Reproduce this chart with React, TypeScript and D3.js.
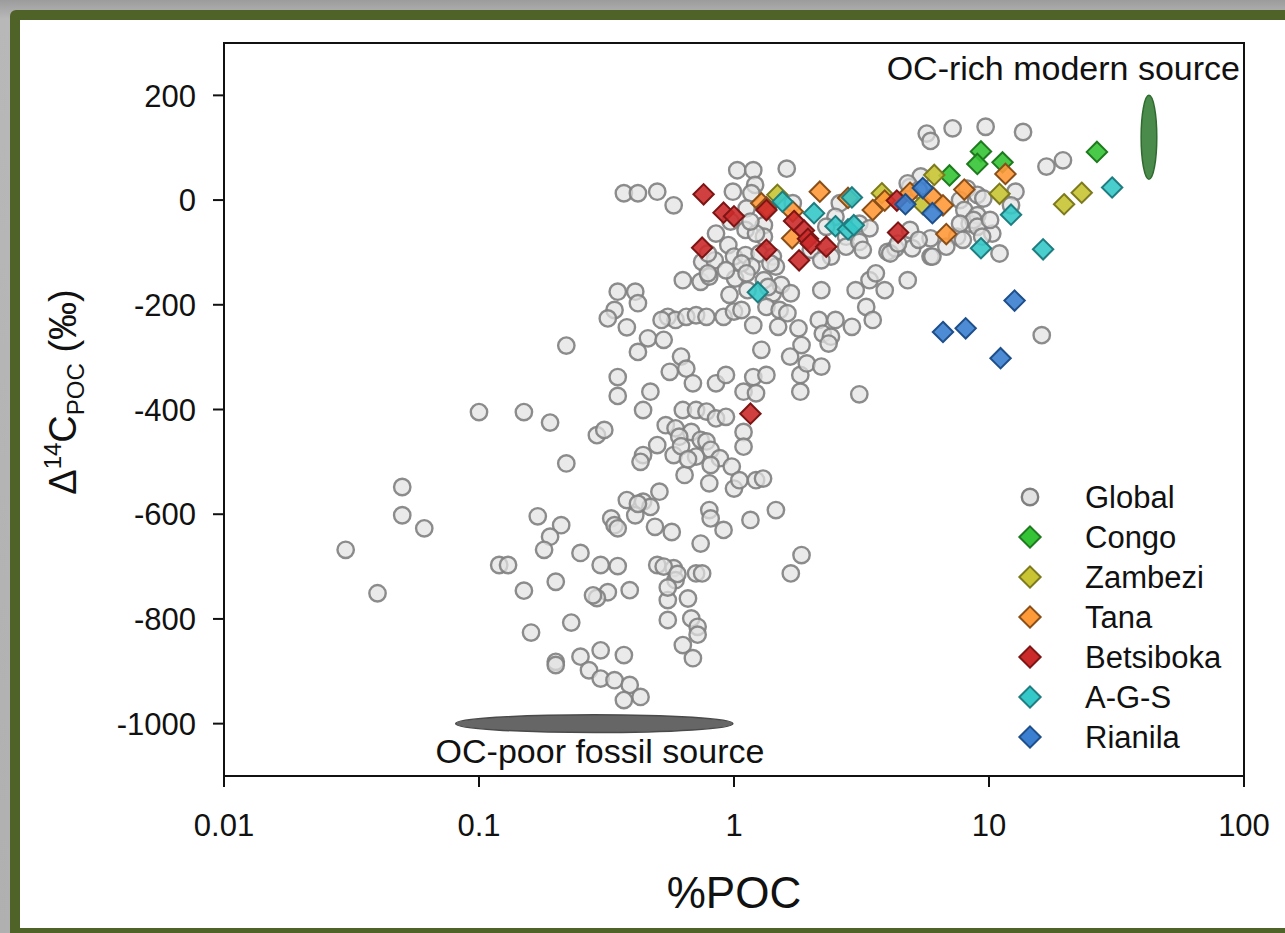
import React from "react";
import * as d3 from "d3";

type Pt = [number, number];

// ---- axis ticks ----
const X_TICKS = [0.01, 0.1, 1, 10, 100];
const X_TICK_LABELS = ["0.01", "0.1", "1", "10", "100"];
const Y_TICKS = [200, 0, -200, -400, -600, -800, -1000];

// ---- data: [%POC, Δ14C ‰] ----
const GLOBAL: Pt[] = [
  // top
  [5.7, 127], [5.9, 113], [7.2, 137], [9.7, 140], [13.6, 130], [16.8, 64], [19.5, 76],
  [1.03, 57], [1.19, 57], [1.61, 60], [5.4, 45],
  // around 0
  [0.37, 13], [0.42, 13], [0.5, 16], [0.58, -10], [0.99, 16], [1.21, 29], [1.17, 13],
  [1.12, -16], [1.7, -6], [2.6, -6], [4.9, 25], [4.8, 32], [5.3, 19], [8.2, 22], [9.0, 10],
  [9.5, 3], [12.7, 16], [12.2, -10], [7.7, 0], [8.0, -19],
  // -20 .. -120
  [0.85, -64], [0.95, -86], [1.11, -57], [1.31, -48], [1.31, -70], [0.75, -118], [0.84, -115],
  [1.0, -108], [1.11, -105], [1.26, -102], [1.42, -108], [1.46, -127], [1.17, -127], [0.79, -102],
  [1.22, -64], [1.16, -41], [0.97, -41], [2.5, -32], [3.1, -45], [2.75, -70], [3.4, -54],
  [2.75, -89], [3.1, -80], [4.0, -99], [4.3, -92], [5.0, -92], [5.9, -108], [5.9, -73],
  [4.9, -57], [8.4, -45], [7.5, -70], [9.0, -29], [8.7, -38], [9.0, -51], [10.3, -64],
  [11.0, -102], [7.7, -45], [10.1, -38], [2.4, -108], [3.2, -95], [2.3, -51], [2.0, -95],
  [2.2, -115], [5.3, -76], [6.0, -108], [6.8, -89], [4.1, -102], [4.4, -83], [7.9, -76], [9.4, -70],
  // -120 .. -210
  [0.63, -153], [0.74, -156], [0.8, -146], [1.01, -150], [0.96, -181], [1.13, -172], [1.42, -178],
  [1.53, -162], [1.34, -204], [0.35, -175], [0.41, -175], [0.42, -197], [0.34, -210], [0.79, -140],
  [0.93, -134], [1.07, -121], [1.39, -121], [1.31, -153], [1.12, -140], [1.36, -166], [1.67, -178],
  [1.51, -210], [2.2, -172], [3.0, -172], [3.4, -153], [3.6, -140], [3.9, -172], [4.8, -153], [3.3, -204],
  // -210 .. -300
  [0.32, -226], [0.38, -243], [0.22, -278], [0.46, -264], [0.53, -267], [0.42, -290], [0.55, -223],
  [0.59, -229], [0.65, -223], [0.71, -220], [0.78, -223], [0.91, -223], [1.0, -213], [1.07, -210],
  [1.19, -239], [1.49, -242], [1.62, -216], [1.79, -245], [1.84, -277], [2.15, -229], [2.23, -255],
  [2.4, -261], [2.5, -229], [2.9, -242], [3.5, -229], [1.28, -286], [1.66, -299], [2.35, -274],
  [0.62, -299], [0.52, -229], [16.1, -258],
  // -300 .. -420
  [1.82, -334], [1.93, -312], [2.2, -318], [0.65, -322], [0.69, -350], [0.56, -328], [0.35, -338],
  [0.35, -374], [0.47, -366], [0.44, -401], [0.63, -401], [0.71, -401], [0.78, -404], [0.85, -350],
  [0.93, -334], [1.09, -366], [1.19, -338], [1.22, -369], [1.34, -334], [3.1, -371], [1.82, -366],
  [0.1, -405], [0.15, -405], [0.19, -425], [0.85, -417], [0.93, -414],
  // -420 .. -560
  [1.09, -443], [1.09, -471], [0.29, -449], [0.31, -439], [0.22, -503], [0.54, -430], [0.59, -436],
  [0.68, -443], [0.74, -458], [0.78, -461], [0.61, -452], [0.5, -468], [0.44, -487], [0.43, -500],
  [0.58, -487], [0.71, -490], [0.81, -477], [0.88, -493], [0.81, -506], [0.98, -509], [0.64, -525],
  [0.8, -541], [1.0, -551], [1.05, -535], [1.22, -535], [1.3, -532], [0.51, -557], [0.05, -548],
  [0.62, -470], [0.66, -495],
  // -560 .. -710
  [0.38, -573], [0.44, -576], [0.47, -586], [0.33, -608], [0.34, -621], [0.41, -602], [0.49, -624],
  [0.57, -634], [0.8, -592], [0.81, -608], [0.91, -630], [1.16, -611], [1.46, -592], [0.74, -656],
  [0.21, -621], [0.25, -674], [0.3, -697], [0.35, -699], [0.5, -697], [0.58, -703], [1.84, -678],
  [1.67, -713], [0.05, -602], [0.061, -627], [0.03, -668], [0.17, -604], [0.19, -643], [0.18, -668],
  [0.12, -697], [0.13, -697], [0.53, -700], [0.42, -580], [0.35, -627],
  // -710 .. -960
  [0.39, -745], [0.32, -749], [0.29, -760], [0.23, -807], [0.59, -726], [0.71, -713], [0.66, -761],
  [0.55, -764], [0.55, -802], [0.68, -799], [0.72, -815], [0.63, -850], [0.69, -875], [0.25, -872],
  [0.3, -860], [0.37, -869], [0.27, -898], [0.3, -914], [0.34, -917], [0.39, -926], [0.43, -949],
  [0.37, -955], [0.04, -751], [0.15, -746], [0.2, -729], [0.16, -826], [0.2, -882], [0.2, -888],
  [0.75, -713], [0.72, -830], [0.6, -714], [0.55, -740], [0.28, -755],
];

const CONGO: Pt[] = [[7.0, 47], [9.3, 93], [9.0, 69], [11.3, 72], [26.5, 92]];
const ZAMBEZI: Pt[] = [[1.48, 10], [3.8, 13], [5.5, -8], [6.1, 48], [11.0, 12], [19.7, -8], [23.1, 14]];
const TANA: Pt[] = [
  [1.28, -6], [1.34, -14], [1.7, -22], [1.69, -73], [2.17, 16], [2.8, 4], [3.5, -19], [3.9, -1],
  [4.9, 14], [6.0, 6], [6.6, -10], [6.8, -65], [8.0, 20], [11.6, 50],
];
const BETSIBOKA: Pt[] = [
  [0.76, 11], [0.91, -24], [1.0, -31], [1.34, -19], [0.75, -91], [1.34, -95], [1.72, -40], [1.88, -58],
  [1.95, -74], [2.0, -83], [1.8, -115], [2.3, -89], [4.35, -1], [4.4, -62], [1.16, -408],
];
const AGS: Pt[] = [
  [1.55, -3], [2.06, -25], [2.5, -50], [2.8, -56], [2.95, -48], [2.9, 5], [1.24, -176], [12.2, -28],
  [9.3, -92], [16.3, -94], [30.4, 24],
];
const RIANILA: Pt[] = [[5.5, 23], [4.7, -8], [6.0, -25], [12.6, -192], [6.6, -252], [8.1, -245], [11.1, -302]];

const SERIES_NAMES = ["Congo", "Zambezi", "Tana", "Betsiboka", "A-G-S", "Rianila"];
const SERIES_DATA = [CONGO, ZAMBEZI, TANA, BETSIBOKA, AGS, RIANILA];
const SERIES_FILL = ["#35c435", "#c8c434", "#ff9a38", "#cc2b2b", "#35c8c8", "#3a7fd0"];
const SERIES_STROKE = ["#1f7a1f", "#7d7a1e", "#8a4f18", "#7d1515", "#1f7d80", "#1e4f8a"];

// end-members
const FOSSIL_X = [0.081, 0.99];
const FOSSIL_Y = [-1017, -983];
const MODERN_X = [39.5, 45.5];
const MODERN_Y = [40, 200];

const FONT = "'Liberation Sans', Arial, Helvetica, sans-serif";

export default function App() {
  const W = 1285;
  const H = 933;
  const L = 224, R = 1244, T = 43, B = 776;
  const x = d3.scaleLog().domain([0.01, 100]).range([L, R]);
  const y = d3.scaleLinear().domain([-1100, 300]).range([B, T]);
  const diamond = d3.symbol().type(d3.symbolDiamond2).size(265)() as string;
  const diamondLeg = d3.symbol().type(d3.symbolDiamond2).size(290)() as string;

  const fx0 = x(FOSSIL_X[0]), fx1 = x(FOSSIL_X[1]);
  const fy0 = y(FOSSIL_Y[1]), fy1 = y(FOSSIL_Y[0]);
  const mx0 = x(MODERN_X[0]), mx1 = x(MODERN_X[1]);
  const my0 = y(MODERN_Y[1]), my1 = y(MODERN_Y[0]);

  const legY0 = 497, legStep = 40, legSymX = 1030, legTextX = 1085;

  return (
    <div style={{ position: "absolute", left: 0, top: 0 }}>
      <svg width={W} height={H} style={{ display: "block" }} fontFamily={FONT}>
        <defs>
          <linearGradient id="bg" x1="0" y1="0" x2="0" y2="1">
            <stop offset="0" stopColor="#9c9c9c" />
            <stop offset="0.02" stopColor="#b8b8b8" />
            <stop offset="1" stopColor="#b0b0b0" />
          </linearGradient>
          <clipPath id="plot">
            <rect x={L} y={T} width={R - L} height={B - T} />
          </clipPath>
        </defs>
        <rect x={0} y={0} width={W} height={H} fill="url(#bg)" />
        <rect x={10} y={10} width={W + 20} height={H + 20} rx={6} fill="#4f6228" />
        <rect x={20} y={20} width={W - 20} height={908} fill="#ffffff" />

        {/* end-member ellipses */}
        <ellipse cx={(fx0 + fx1) / 2} cy={(fy0 + fy1) / 2} rx={(fx1 - fx0) / 2} ry={(fy1 - fy0) / 2}
          fill="#666666" stroke="#4a4a4a" strokeWidth={1.5} />
        <ellipse cx={(mx0 + mx1) / 2} cy={(my0 + my1) / 2} rx={(mx1 - mx0) / 2} ry={(my1 - my0) / 2}
          fill="#4a8a4a" stroke="#2f6a2f" strokeWidth={1.5} />

        {/* points */}
        <g clipPath="url(#plot)">
          {GLOBAL.map((d, i) => (
            <circle key={i} cx={x(d[0])} cy={y(d[1])} r={8.2} fill="#e2e2e2" fillOpacity={0.72}
              stroke="#7f7f7f" strokeWidth={2.4} strokeOpacity={0.9} />
          ))}
          {SERIES_DATA.map((arr, s) => (
            <g key={s}>
              {arr.map((d, i) => (
                <path key={i} d={diamond} transform={`translate(${x(d[0])},${y(d[1])})`}
                  fill={SERIES_FILL[s]} fillOpacity={0.9} stroke={SERIES_STROKE[s]} strokeWidth={2} />
              ))}
            </g>
          ))}
        </g>

        {/* frame */}
        <rect x={L} y={T} width={R - L} height={B - T} fill="none" stroke="#111" strokeWidth={2} />

        {/* x axis */}
        {X_TICKS.map((t, i) => (
          <g key={i}>
            <line x1={x(t)} x2={x(t)} y1={B} y2={B + 11} stroke="#111" strokeWidth={2} />
            <text x={x(t)} y={836} textAnchor="middle" fontSize={31} fill="#111">{X_TICK_LABELS[i]}</text>
          </g>
        ))}
        {/* y axis */}
        {Y_TICKS.map((t, i) => (
          <g key={i}>
            <line x1={L - 11} x2={L} y1={y(t)} y2={y(t)} stroke="#111" strokeWidth={2} />
            <text x={196} y={y(t)} dy="0.36em" textAnchor="end" fontSize={31} fill="#111">{t}</text>
          </g>
        ))}

        {/* axis titles */}
        <text x={(L + R) / 2} y={908} textAnchor="middle" fontSize={44} fill="#111">%POC</text>
        <text transform="translate(76,392) rotate(-90)" textAnchor="middle" fontSize={38} fill="#111">
          <tspan>Δ</tspan>
          <tspan fontSize={24} dy={-15}>14</tspan>
          <tspan dy={15}>C</tspan>
          <tspan fontSize={24} dy={8}>POC</tspan>
          <tspan dy={-8}> (‰)</tspan>
        </text>

        {/* annotations */}
        <text x={1240} y={80} textAnchor="end" fontSize={34} fill="#111">OC-rich modern source</text>
        <text x={600} y={763} textAnchor="middle" fontSize={34} fill="#111">OC-poor fossil source</text>

        {/* legend */}
        <circle cx={legSymX} cy={legY0} r={8.2} fill="#e2e2e2" stroke="#7f7f7f" strokeWidth={2.4} />
        <text x={legTextX} y={legY0} dy="0.36em" fontSize={31} fill="#111">Global</text>
        {SERIES_NAMES.map((n, s) => {
          const yy = legY0 + legStep * (s + 1);
          return (
            <g key={n}>
              <path d={diamondLeg} transform={`translate(${legSymX},${yy})`} fill={SERIES_FILL[s]}
                stroke={SERIES_STROKE[s]} strokeWidth={2} />
              <text x={legTextX} y={yy} dy="0.36em" fontSize={31} fill="#111">{n}</text>
            </g>
          );
        })}
      </svg>
    </div>
  );
}
